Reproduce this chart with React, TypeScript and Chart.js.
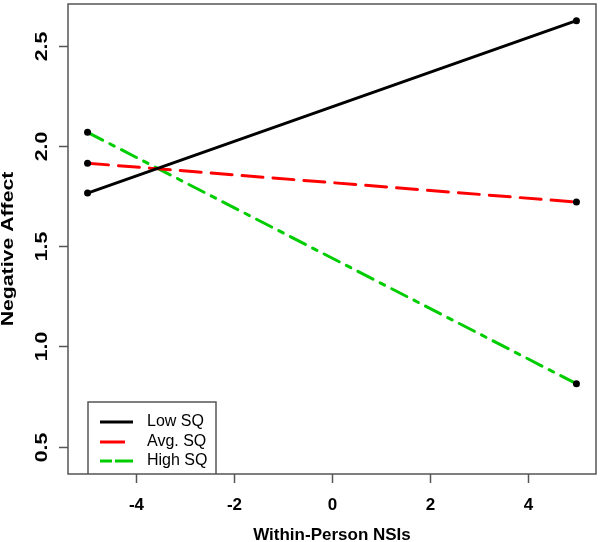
import { useEffect, useRef } from 'react';
import { Chart, registerables } from 'chart.js';

Chart.register(...registerables);

const xValues = [-5, 5];
const lowSQ = [1.764, 2.624];
const avgSQ = [1.913, 1.719];
const highSQ = [2.067, 0.813];
const seriesNames = ['Low SQ', 'Avg. SQ', 'High SQ'];
const xTicks = [-4, -2, 0, 2, 4];
const xTickLabels = ['-4', '-2', '0', '2', '4'];
const yTicks = [0.5, 1.0, 1.5, 2.0, 2.5];
const yTickLabels = ['0.5', '1.0', '1.5', '2.0', '2.5'];
const xTitle = 'Within-Person NSIs';
const yTitle = 'Negative Affect';

const FONT = '"Liberation Sans", Arial, Helvetica, sans-serif';
const VSTRETCH = 1.25;

const rAxesPlugin = {
  id: 'rAxes',
  afterDraw(chart: any) {
    const ctx = chart.ctx as CanvasRenderingContext2D;
    const { left, right, top, bottom } = chart.chartArea;
    const xs = chart.scales.x;
    const ys = chart.scales.y;
    ctx.save();
    // box
    ctx.strokeStyle = '#555';
    ctx.lineWidth = 1.5;
    ctx.strokeRect(left, top, right - left, bottom - top);
    // x ticks
    ctx.fillStyle = '#000';
    ctx.font = `bold 17px ${FONT}`;
    ctx.textAlign = 'center';
    ctx.textBaseline = 'alphabetic';
    xTicks.forEach((v, i) => {
      const px = Math.round(xs.getPixelForValue(v)) + 0.5;
      ctx.beginPath();
      ctx.moveTo(px, bottom);
      ctx.lineTo(px, bottom + 9);
      ctx.stroke();
      ctx.fillText(xTickLabels[i], px, 510);
    });
    // y ticks
    yTicks.forEach((v, i) => {
      const py = Math.round(ys.getPixelForValue(v)) + 0.5;
      ctx.beginPath();
      ctx.moveTo(left, py);
      ctx.lineTo(left - 9, py);
      ctx.stroke();
      ctx.save();
      ctx.translate(47, py);
      ctx.rotate(-Math.PI / 2);
      ctx.scale(VSTRETCH, 1);
      ctx.fillText(yTickLabels[i], 0, 0);
      ctx.restore();
    });
    // titles
    ctx.fillText(xTitle, (left + right) / 2, 540);
    ctx.save();
    ctx.translate(13, 249);
    ctx.rotate(-Math.PI / 2);
    ctx.scale(VSTRETCH, 1);
    ctx.fillText(yTitle, 0, 0);
    ctx.restore();
    // legend
    ctx.strokeStyle = '#555';
    ctx.lineWidth = 1.5;
    ctx.beginPath();
    ctx.moveTo(88, bottom);
    ctx.lineTo(88, 402);
    ctx.lineTo(216, 402);
    ctx.lineTo(216, bottom);
    ctx.stroke();
    const rows = [422, 442, 461];
    const colors = ['#000000', '#ff0000', '#00cd00'];
    ctx.lineWidth = 3;
    ctx.lineCap = 'butt';
    ctx.strokeStyle = colors[0];
    ctx.beginPath();
    ctx.moveTo(100, rows[0]);
    ctx.lineTo(133, rows[0]);
    ctx.stroke();
    ctx.strokeStyle = colors[1];
    ctx.beginPath();
    ctx.moveTo(100, rows[1]);
    ctx.lineTo(125, rows[1]);
    ctx.stroke();
    ctx.strokeStyle = colors[2];
    ctx.beginPath();
    ctx.moveTo(100, rows[2]);
    ctx.lineTo(112, rows[2]);
    ctx.moveTo(115, rows[2]);
    ctx.lineTo(133, rows[2]);
    ctx.stroke();
    ctx.font = `16px ${FONT}`;
    ctx.textAlign = 'left';
    ctx.textBaseline = 'middle';
    ctx.fillStyle = '#000';
    seriesNames.forEach((n, i) => {
      ctx.fillText(n, 147, rows[i]);
    });
    ctx.restore();
  },
};

function toPoints(ys: number[]) {
  return xValues.map((x, i) => ({ x, y: ys[i] }));
}

export default function App() {
  const ref = useRef<HTMLCanvasElement | null>(null);
  useEffect(() => {
    if (!ref.current) return;
    const common = {
      borderWidth: 3,
      borderCapStyle: 'round' as const,
      pointRadius: 3.5,
      pointBackgroundColor: '#000',
      pointBorderWidth: 0,
      fill: false,
      tension: 0,
    };
    const chart = new Chart(ref.current, {
      type: 'line',
      data: {
        datasets: [
          { label: seriesNames[0], data: toPoints(lowSQ), borderColor: '#000000', ...common },
          { label: seriesNames[1], data: toPoints(avgSQ), borderColor: '#ff0000', borderDash: [21, 10], ...common },
          { label: seriesNames[2], data: toPoints(highSQ), borderColor: '#00cd00', borderDash: [17, 8, 5, 8], ...common },
        ],
      },
      options: {
        animation: false,
        responsive: false,
        devicePixelRatio: 1,
        layout: { padding: { left: 68, right: 3, top: 3, bottom: 68 } },
        plugins: { legend: { display: false }, tooltip: { enabled: false } },
        scales: {
          x: { type: 'linear', min: -5.4, max: 5.4, display: false },
          y: { type: 'linear', min: 0.363, max: 2.707, display: false },
        },
      },
      plugins: [rAxesPlugin],
    });
    return () => chart.destroy();
  }, []);
  return (
    <div style={{ position: 'absolute', left: 0, top: 0, width: 600, height: 542, background: '#fff' }}>
      <canvas ref={ref} width={600} height={542} />
    </div>
  );
}
